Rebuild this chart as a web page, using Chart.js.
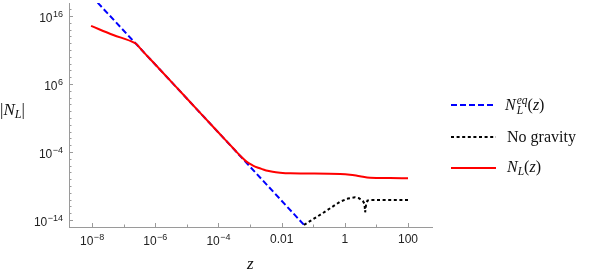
<!DOCTYPE html>
<html>
<head>
<meta charset="utf-8">
<script src="https://cdn.jsdelivr.net/npm/chart.js@4.4.0/dist/chart.umd.min.js"></script>
<style>
  html, body { margin: 0; padding: 0; background: #fff; }
  #wrap { position: relative; width: 590px; height: 275px; }
  #wrap canvas { position: absolute; left: 0; top: 0; }
  .tx { position: absolute; font-family: "Liberation Serif", "DejaVu Serif", serif; color: #111; white-space: nowrap; line-height: 1; }
  .tx i { font-style: italic; }
  .sb { font-size: 72%; position: relative; top: 0.28em; }
  .ss { display: inline-block; font-size: 72%; line-height: 0.9; vertical-align: -0.35em; margin-left: 1px; }
  .ss i { display: block; }
  .key { position: absolute; left: 450px; width: 46px; height: 6px; }
</style>
</head>
<body>
<div id="wrap">
  <canvas id="myChart" width="590" height="275"></canvas>
  <div class="tx" style="left:0px; top:101px; font-size:17px;">|<i>N</i><i class="sb">L</i>|</div>
  <div class="tx" style="left:247px; top:255px; font-size:17px;"><i>z</i></div>

  <svg class="key" style="top:102px;"><line x1="1" y1="3" x2="46" y2="3" stroke="#0000ff" stroke-width="2" stroke-dasharray="6 3"/></svg>
  <div class="tx" style="left:505px; top:95px; font-size:16px;"><i>N</i><span class="ss"><i>eq</i><i>L</i></span>(<i>z</i>)</div>

  <svg class="key" style="top:134px;"><line x1="1" y1="3" x2="46" y2="3" stroke="#000" stroke-width="2" stroke-dasharray="3 2.6"/></svg>
  <div class="tx" style="left:507px; top:129px; font-size:16px;">No gravity</div>

  <svg class="key" style="top:165px;"><line x1="1" y1="3" x2="46" y2="3" stroke="#ff0000" stroke-width="2"/></svg>
  <div class="tx" style="left:507px; top:159px; font-size:16px;"><i>N</i><i class="sb">L</i>(<i>z</i>)</div>
</div>
<script>
// N_L^eq(z): straight power law in log-log
const zEq = [1.5e-8, 1e-6, 1e-4, 5.1e-2];
const nEq = [9.1e17, 7.2e8, 7.2e-2, 1.9e-15];

// No gravity
const zNoGrav = [5.1e-2, 0.2, 0.71, 1.26, 2.1, 2.8, 3.7, 4.2, 4.4, 4.7, 5.2, 6.3, 100];
const nNoGrav = [1.9e-15, 1e-13, 4.9e-12, 1.4e-11, 2.2e-11, 1.6e-11, 6.3e-12, 2.5e-12, 1.35e-13, 2e-12, 7e-12, 8.7e-12, 8.7e-12];

// N_L(z)
const zNL = [9.3e-9, 4.7e-8, 2.3e-7, 2.75e-7, 3.3e-7, 1e-6, 1e-5, 1e-4, 3.2e-4, 5e-4, 7.9e-4, 1.2e-3, 1.8e-3,
             2.6e-3, 3.6e-3, 5.2e-3, 8.9e-3, 1.9e-2, 0.71, 1.45, 3.0, 6.3, 27, 100];
const nNL = [3.4e14, 1.6e13, 9.8e11, 5.2e11, 1.8e11, 7.2e8, 7.2e3, 7.2e-2, 2.3e-4, 2.5e-5, 3.5e-6, 1.1e-6, 4.8e-7,
             2.7e-7, 1.7e-7, 1.2e-7, 9.1e-8, 7.4e-8, 5.8e-8, 4.6e-8, 2.7e-8, 1.66e-8, 1.5e-8, 1.35e-8];

const xTickValues = [1e-8, 1e-6, 1e-4, 0.01, 1, 100];
const xTickLabels = ['10^\u22128', '10^\u22126', '10^\u22124', '0.01', '1', '100'];
const yTickValues = [1e-14, 1e-4, 1e6, 1e16];
const yTickLabels = ['10^\u221214', '10^\u22124', '10^6', '10^16'];

const axisColor = '#9a9a9a';
const labelFont = 'Liberation Sans, Arial, sans-serif';

function pts(xs, ys) {
    return xs.map((x, i) => ({x: x, y: ys[i]}));
}

function sameDecade(a, b) {
    return Math.abs(Math.log10(a) - Math.log10(b)) < 1e-6;
}

function decadeTicks(scale, majors) {
    const lo = Math.ceil(Math.log10(scale.min) - 1e-9);
    const hi = Math.floor(Math.log10(scale.max) + 1e-9);
    const t = [];
    for (let e = lo; e <= hi; e++) {
        const v = Math.pow(10, e);
        t.push({value: v, isMajor: majors.some(m => sameDecade(m, v))});
    }
    scale.ticks = t;
}

// draws "10^e" with a raised exponent, or a plain number
function drawLabel(c, text, x, baseline, align) {
    const parts = text.split('^');
    c.font = '12px ' + labelFont;
    const w1 = c.measureText(parts[0]).width;
    let w2 = 0;
    if (parts.length > 1) {
        c.font = '9px ' + labelFont;
        w2 = c.measureText(parts[1]).width + 0.5;
    }
    let left = align === 'right' ? x - w1 - w2 : x - (w1 + w2) / 2;
    if (parts.length > 1) baseline += 1.7;
    c.font = '12px ' + labelFont;
    c.fillText(parts[0], left, baseline);
    if (parts.length > 1) {
        c.font = '9px ' + labelFont;
        c.fillText(parts[1], left + w1 + 0.5, baseline - 4.8);
    }
}

// Mathematica style ticks, pointing into the plot, plus tick labels
const axisDecor = {
    id: 'axisDecor',
    afterDraw(chart) {
        const c = chart.ctx;
        const area = chart.chartArea;
        const xs = chart.scales.x, ys = chart.scales.y;
        c.save();
        c.strokeStyle = axisColor;
        c.lineWidth = 1;
        c.beginPath();
        ys.ticks.forEach(t => {
            const y = Math.round(ys.getPixelForValue(t.value)) + 0.5;
            c.moveTo(area.left, y);
            c.lineTo(area.left + (t.isMajor ? 4 : 2.5), y);
        });
        xs.ticks.forEach(t => {
            const x = Math.round(xs.getPixelForValue(t.value)) + 0.5;
            c.moveTo(x, area.bottom);
            c.lineTo(x, area.bottom - (t.isMajor ? 4 : 2.5));
        });
        c.stroke();

        c.fillStyle = '#222';
        c.textBaseline = 'alphabetic';
        c.textAlign = 'left';
        xTickValues.forEach((v, i) => {
            drawLabel(c, xTickLabels[i], xs.getPixelForValue(v), area.bottom + 16.3, 'center');
        });
        yTickValues.forEach((v, i) => {
            drawLabel(c, yTickLabels[i], area.left - 6, ys.getPixelForValue(v) + 4.3, 'right');
        });
        c.restore();
    }
};

var ctx = document.getElementById('myChart').getContext('2d');
var myChart = new Chart(ctx, {
    type: 'scatter',
    data: {
        datasets: [{
            label: 'N_L(z)',
            data: pts(zNL, nNL),
            showLine: true,
            borderColor: '#ff0000',
            borderWidth: 2,
            pointRadius: 0,
            cubicInterpolationMode: 'monotone'
        }, {
            label: 'No gravity',
            data: pts(zNoGrav, nNoGrav),
            showLine: true,
            borderColor: '#000000',
            borderWidth: 2,
            borderDash: [3, 2.6],
            pointRadius: 0,
            tension: 0
        }, {
            label: 'N_L^eq(z)',
            data: pts(zEq, nEq),
            showLine: true,
            borderColor: '#0000ff',
            borderWidth: 2,
            borderDash: [6, 3],
            pointRadius: 0,
            tension: 0
        }]
    },
    options: {
        responsive: false,
        animation: false,
        layout: {padding: {left: 0, right: 158, top: 3, bottom: 0}},
        plugins: {legend: {display: false}, tooltip: {enabled: false}},
        scales: {
            x: {
                type: 'logarithmic',
                min: 1.86e-9,
                max: 575,
                afterFit: s => { s.height = 48; },
                afterBuildTicks: s => decadeTicks(s, xTickValues),
                grid: {display: true, drawOnChartArea: false, drawTicks: false},
                border: {display: true, color: axisColor, width: 1},
                ticks: {display: false}
            },
            y: {
                type: 'logarithmic',
                min: 9.3e-16,
                max: 8e17,
                afterFit: s => { s.width = 69; },
                afterBuildTicks: s => decadeTicks(s, yTickValues),
                grid: {display: true, drawOnChartArea: false, drawTicks: false},
                border: {display: true, color: axisColor, width: 1},
                ticks: {display: false}
            }
        }
    },
    plugins: [axisDecor]
});
</script>
</body>
</html>
